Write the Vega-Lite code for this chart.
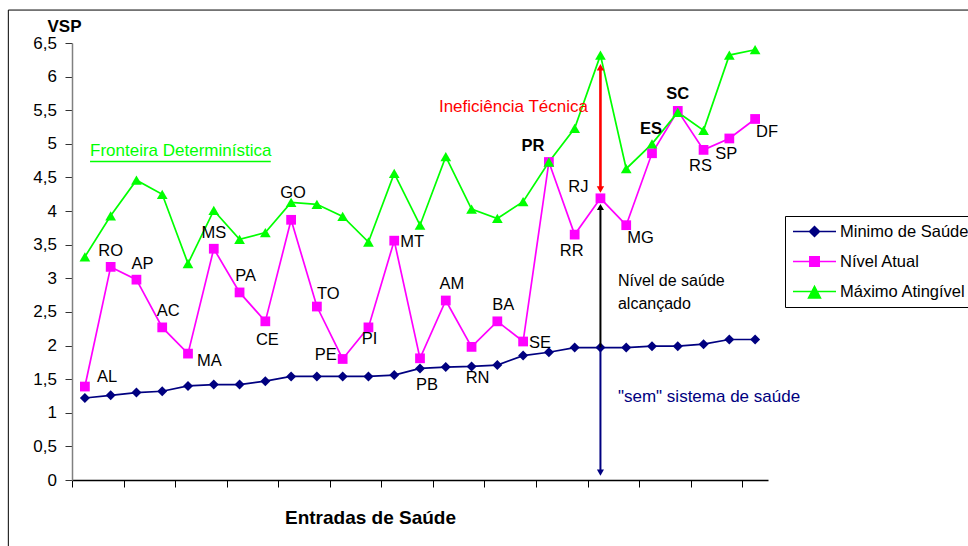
{
  "$schema": "https://vega.github.io/schema/vega-lite/v6.json",
  "width": 696,
  "height": 437,
  "autosize": {"type": "none"},
  "padding": {"left": 72, "top": 43, "right": 200, "bottom": 66},
  "background": "white",
  "config": {"view": {"stroke": null}, "font": "Liberation Sans", "text": {"font": "Liberation Sans", "color": "#000"}, "axisY": {"labelOverlap": false}},
  "datasets": {
    "states": [
      {"idx": 1, "state": "AL", "Minimo de Saúde": 1.22, "Nível Atual": 1.39, "Máximo Atingível": 3.32},
      {"idx": 2, "state": "RO", "Minimo de Saúde": 1.26, "Nível Atual": 3.17, "Máximo Atingível": 3.93},
      {"idx": 3, "state": "AP", "Minimo de Saúde": 1.30, "Nível Atual": 2.98, "Máximo Atingível": 4.46},
      {"idx": 4, "state": "AC", "Minimo de Saúde": 1.32, "Nível Atual": 2.27, "Máximo Atingível": 4.25},
      {"idx": 5, "state": "MA", "Minimo de Saúde": 1.40, "Nível Atual": 1.88, "Máximo Atingível": 3.22},
      {"idx": 6, "state": "MS", "Minimo de Saúde": 1.42, "Nível Atual": 3.44, "Máximo Atingível": 4.01},
      {"idx": 7, "state": "PA", "Minimo de Saúde": 1.42, "Nível Atual": 2.79, "Máximo Atingível": 3.58},
      {"idx": 8, "state": "CE", "Minimo de Saúde": 1.47, "Nível Atual": 2.36, "Máximo Atingível": 3.68},
      {"idx": 9, "state": "GO", "Minimo de Saúde": 1.54, "Nível Atual": 3.87, "Máximo Atingível": 4.13},
      {"idx": 10, "state": "TO", "Minimo de Saúde": 1.54, "Nível Atual": 2.58, "Máximo Atingível": 4.10},
      {"idx": 11, "state": "PE", "Minimo de Saúde": 1.54, "Nível Atual": 1.80, "Máximo Atingível": 3.92},
      {"idx": 12, "state": "PI", "Minimo de Saúde": 1.54, "Nível Atual": 2.27, "Máximo Atingível": 3.54},
      {"idx": 13, "state": "MT", "Minimo de Saúde": 1.56, "Nível Atual": 3.56, "Máximo Atingível": 4.56},
      {"idx": 14, "state": "PB", "Minimo de Saúde": 1.66, "Nível Atual": 1.81, "Máximo Atingível": 3.79},
      {"idx": 15, "state": "AM", "Minimo de Saúde": 1.68, "Nível Atual": 2.67, "Máximo Atingível": 4.81},
      {"idx": 16, "state": "RN", "Minimo de Saúde": 1.69, "Nível Atual": 1.98, "Máximo Atingível": 4.03},
      {"idx": 17, "state": "BA", "Minimo de Saúde": 1.71, "Nível Atual": 2.36, "Máximo Atingível": 3.89},
      {"idx": 18, "state": "SE", "Minimo de Saúde": 1.85, "Nível Atual": 2.06, "Máximo Atingível": 4.14},
      {"idx": 19, "state": "PR", "Minimo de Saúde": 1.90, "Nível Atual": 4.73, "Máximo Atingível": 4.73},
      {"idx": 20, "state": "RR", "Minimo de Saúde": 1.97, "Nível Atual": 3.65, "Máximo Atingível": 5.23},
      {"idx": 21, "state": "RJ", "Minimo de Saúde": 1.97, "Nível Atual": 4.19, "Máximo Atingível": 6.32},
      {"idx": 22, "state": "MG", "Minimo de Saúde": 1.97, "Nível Atual": 3.79, "Máximo Atingível": 4.63},
      {"idx": 23, "state": "ES", "Minimo de Saúde": 1.99, "Nível Atual": 4.86, "Máximo Atingível": 5.00},
      {"idx": 24, "state": "SC", "Minimo de Saúde": 1.99, "Nível Atual": 5.49, "Máximo Atingível": 5.47},
      {"idx": 25, "state": "RS", "Minimo de Saúde": 2.02, "Nível Atual": 4.91, "Máximo Atingível": 5.20},
      {"idx": 26, "state": "SP", "Minimo de Saúde": 2.09, "Nível Atual": 5.08, "Máximo Atingível": 6.32},
      {"idx": 27, "state": "DF", "Minimo de Saúde": 2.09, "Nível Atual": 5.37, "Máximo Atingível": 6.40}
    ]
  },
  "data": {"name": "states"},
  "layer": [
    {
      "transform": [{"fold": ["Minimo de Saúde", "Nível Atual", "Máximo Atingível"], "as": ["series", "value"]}],
      "mark": {"type": "line", "strokeWidth": 1.7},
      "encoding": {
        "x": {
          "field": "idx", "type": "quantitative",
          "scale": {"domain": [0.5, 27.5], "nice": false, "zero": false},
          "axis": {
            "values": [0.5, 1.5, 2.5, 3.5, 4.5, 5.5, 6.5, 7.5, 8.5, 9.5, 10.5, 11.5, 12.5, 13.5, 14.5, 15.5, 16.5, 17.5, 18.5, 19.5, 20.5, 21.5, 22.5, 23.5, 24.5, 25.5, 26.5, 27.5],
            "labels": false, "grid": false, "domainColor": "#000", "domainWidth": 1.3, "tickColor": "#000", "tickSize": 7,
            "title": "Entradas de Saúde", "titleX": 298, "titleY": 43, "titleBaseline": "alphabetic", "titleAlign": "center",
            "titleFontSize": 19, "titleFontWeight": "bold", "titleFont": "Liberation Sans", "titleColor": "#000"
          }
        },
        "y": {
          "field": "value", "type": "quantitative",
          "scale": {"domain": [0, 6.5], "nice": false, "zero": true},
          "axis": {
            "values": [0, 0.5, 1, 1.5, 2, 2.5, 3, 3.5, 4, 4.5, 5, 5.5, 6, 6.5],
            "tickCount": 14,
            "labelExpr": "replace(format(datum.value, '~f'), '.', ',')",
            "labelOverlap": false, "labelFlush": false,
            "grid": false, "domainColor": "#808080", "domainWidth": 1.5, "tickColor": "#333", "tickSize": 7,
            "labelFontSize": 17, "labelFont": "Liberation Sans", "labelColor": "#000", "labelPadding": 8.5,
            "title": "VSP", "titleAngle": 0, "titleX": -25, "titleY": -12, "titleAlign": "left", "titleBaseline": "alphabetic",
            "titleFontSize": 17, "titleFontWeight": "bold", "titleFont": "Liberation Sans", "titleColor": "#000"
          }
        },
        "color": {
          "field": "series", "type": "nominal",
          "scale": {"domain": ["Minimo de Saúde", "Nível Atual", "Máximo Atingível"], "range": ["#000080", "#FF00FF", "#00FF00"]},
          "legend": {
            "title": null, "orient": "none", "legendX": 713, "legendY": 173, "padding": 7,
            "strokeColor": "#000", "fillColor": "#fff", "symbolSize": 1849, "clipHeight": 17, "rowPadding": 13,
            "labelFontSize": 16.5, "labelFont": "Liberation Sans", "labelColor": "#000", "labelOffset": 3, "labelLimit": 400,
            "symbolOffset": 0, "symbolStrokeWidth": 1.5,
            "encode": {
              "symbols": {
                "update": {
                  "shape": {"signal": "datum.value === 'Minimo de Saúde' ? 'M-1,0H1M-0.233,0L0,-0.233L0.233,0L0,0.233Z' : datum.value === 'Nível Atual' ? 'M-1,0H1M-0.22,-0.22H0.22V0.22H-0.22Z' : 'M-1,0H1M0,-0.24L0.28,0.3L-0.28,0.3Z'"},
                  "fill": {"signal": "scale('color', datum.value)"},
                  "stroke": {"signal": "scale('color', datum.value)"},
                  "strokeWidth": {"value": 1.5},
                  "opacity": {"value": 1}
                }
              }
            }
          }
        }
      }
    },
    {
      "data": {"values": [{"frame": 1}]},
      "mark": {"type": "rect", "filled": false, "stroke": "#000", "strokeWidth": 1, "clip": false},
      "encoding": {
        "x": {"datum": -1.97, "type": "quantitative"},
        "x2": {"datum": 40},
        "y": {"datum": 6.99, "type": "quantitative"},
        "y2": {"datum": -3}
      }
    },
    {
      "mark": {"type": "point", "shape": "diamond", "filled": true, "opacity": 1, "size": 100, "color": "#000080"},
      "encoding": {
        "x": {"field": "idx", "type": "quantitative"},
        "y": {"field": "Minimo de Saúde", "type": "quantitative"}
      }
    },
    {
      "mark": {"type": "point", "shape": "square", "filled": true, "opacity": 1, "size": 95, "color": "#FF00FF"},
      "encoding": {
        "x": {"field": "idx", "type": "quantitative"},
        "y": {"field": "Nível Atual", "type": "quantitative"}
      }
    },
    {
      "mark": {"type": "point", "shape": "triangle-up", "filled": true, "opacity": 1, "size": 115, "color": "#00FF00"},
      "encoding": {
        "x": {"field": "idx", "type": "quantitative"},
        "y": {"field": "Máximo Atingível", "type": "quantitative"}
      }
    },
    {
      "transform": [{"filter": {"field": "state", "oneOf": ["RO", "MS"]}}],
      "mark": {"type": "text", "align": "center", "baseline": "middle", "dx": 0, "dy": -16, "fontSize": 16.5},
      "encoding": {"x": {"field": "idx", "type": "quantitative"}, "y": {"field": "Nível Atual", "type": "quantitative"}, "text": {"field": "state"}}
    },
    {
      "transform": [{"filter": {"field": "state", "oneOf": ["AP", "AC", "PA", "AM", "BA"]}}],
      "mark": {"type": "text", "align": "center", "baseline": "middle", "dx": 6, "dy": -16, "fontSize": 16.5},
      "encoding": {"x": {"field": "idx", "type": "quantitative"}, "y": {"field": "Nível Atual", "type": "quantitative"}, "text": {"field": "state"}}
    },
    {
      "transform": [{"filter": {"field": "state", "oneOf": ["RR", "RS", "SP"]}}],
      "mark": {"type": "text", "align": "center", "baseline": "middle", "dx": -3, "dy": 16, "fontSize": 16.5},
      "encoding": {"x": {"field": "idx", "type": "quantitative"}, "y": {"field": "Nível Atual", "type": "quantitative"}, "text": {"field": "state"}}
    },
    {
      "transform": [{"filter": {"field": "state", "oneOf": ["CE"]}}],
      "mark": {"type": "text", "align": "center", "baseline": "middle", "dx": 2, "dy": 19, "fontSize": 16.5},
      "encoding": {"x": {"field": "idx", "type": "quantitative"}, "y": {"field": "Nível Atual", "type": "quantitative"}, "text": {"field": "state"}}
    },
    {
      "transform": [{"filter": {"field": "state", "oneOf": ["PI"]}}],
      "mark": {"type": "text", "align": "center", "baseline": "middle", "dx": 1, "dy": 12, "fontSize": 16.5},
      "encoding": {"x": {"field": "idx", "type": "quantitative"}, "y": {"field": "Nível Atual", "type": "quantitative"}, "text": {"field": "state"}}
    },
    {
      "transform": [{"filter": {"field": "state", "oneOf": ["GO"]}}],
      "mark": {"type": "text", "align": "center", "baseline": "middle", "dx": 2, "dy": -27, "fontSize": 16.5},
      "encoding": {"x": {"field": "idx", "type": "quantitative"}, "y": {"field": "Nível Atual", "type": "quantitative"}, "text": {"field": "state"}}
    },
    {
      "transform": [{"filter": {"field": "state", "oneOf": ["PB"]}}],
      "mark": {"type": "text", "align": "center", "baseline": "middle", "dx": 7, "dy": 27, "fontSize": 16.5},
      "encoding": {"x": {"field": "idx", "type": "quantitative"}, "y": {"field": "Nível Atual", "type": "quantitative"}, "text": {"field": "state"}}
    },
    {
      "transform": [{"filter": {"field": "state", "oneOf": ["RN"]}}],
      "mark": {"type": "text", "align": "center", "baseline": "middle", "dx": 6, "dy": 31, "fontSize": 16.5},
      "encoding": {"x": {"field": "idx", "type": "quantitative"}, "y": {"field": "Nível Atual", "type": "quantitative"}, "text": {"field": "state"}}
    },
    {
      "transform": [{"filter": {"field": "state", "oneOf": ["AL"]}}],
      "mark": {"type": "text", "align": "left", "baseline": "middle", "dx": 12, "dy": -10, "fontSize": 16.5},
      "encoding": {"x": {"field": "idx", "type": "quantitative"}, "y": {"field": "Nível Atual", "type": "quantitative"}, "text": {"field": "state"}}
    },
    {
      "transform": [{"filter": {"field": "state", "oneOf": ["TO"]}}],
      "mark": {"type": "text", "align": "left", "baseline": "middle", "dx": 0, "dy": -13, "fontSize": 16.5},
      "encoding": {"x": {"field": "idx", "type": "quantitative"}, "y": {"field": "Nível Atual", "type": "quantitative"}, "text": {"field": "state"}}
    },
    {
      "transform": [{"filter": {"field": "state", "oneOf": ["MA"]}}],
      "mark": {"type": "text", "align": "left", "baseline": "middle", "dx": 9, "dy": 7, "fontSize": 16.5},
      "encoding": {"x": {"field": "idx", "type": "quantitative"}, "y": {"field": "Nível Atual", "type": "quantitative"}, "text": {"field": "state"}}
    },
    {
      "transform": [{"filter": {"field": "state", "oneOf": ["MG", "DF"]}}],
      "mark": {"type": "text", "align": "left", "baseline": "middle", "dx": 1, "dy": 13, "fontSize": 16.5},
      "encoding": {"x": {"field": "idx", "type": "quantitative"}, "y": {"field": "Nível Atual", "type": "quantitative"}, "text": {"field": "state"}}
    },
    {
      "transform": [{"filter": {"field": "state", "oneOf": ["MT", "SE"]}}],
      "mark": {"type": "text", "align": "left", "baseline": "middle", "dx": 6, "dy": 1, "fontSize": 16.5},
      "encoding": {"x": {"field": "idx", "type": "quantitative"}, "y": {"field": "Nível Atual", "type": "quantitative"}, "text": {"field": "state"}}
    },
    {
      "transform": [{"filter": {"field": "state", "oneOf": ["PE"]}}],
      "mark": {"type": "text", "align": "right", "baseline": "middle", "dx": -6, "dy": -4, "fontSize": 16.5},
      "encoding": {"x": {"field": "idx", "type": "quantitative"}, "y": {"field": "Nível Atual", "type": "quantitative"}, "text": {"field": "state"}}
    },
    {
      "transform": [{"filter": {"field": "state", "oneOf": ["RJ"]}}],
      "mark": {"type": "text", "align": "right", "baseline": "middle", "dx": -12, "dy": -11, "fontSize": 16.5},
      "encoding": {"x": {"field": "idx", "type": "quantitative"}, "y": {"field": "Nível Atual", "type": "quantitative"}, "text": {"field": "state"}}
    },
    {
      "transform": [{"filter": {"field": "state", "oneOf": ["PR"]}}],
      "mark": {"type": "text", "align": "center", "baseline": "middle", "dx": -16, "dy": -16, "fontSize": 16.5, "fontWeight": "bold"},
      "encoding": {"x": {"field": "idx", "type": "quantitative"}, "y": {"field": "Nível Atual", "type": "quantitative"}, "text": {"field": "state"}}
    },
    {
      "transform": [{"filter": {"field": "state", "oneOf": ["ES"]}}],
      "mark": {"type": "text", "align": "center", "baseline": "middle", "dx": -1, "dy": -24, "fontSize": 16.5, "fontWeight": "bold"},
      "encoding": {"x": {"field": "idx", "type": "quantitative"}, "y": {"field": "Nível Atual", "type": "quantitative"}, "text": {"field": "state"}}
    },
    {
      "transform": [{"filter": {"field": "state", "oneOf": ["SC"]}}],
      "mark": {"type": "text", "align": "center", "baseline": "middle", "dx": 0, "dy": -17, "fontSize": 16.5, "fontWeight": "bold"},
      "encoding": {"x": {"field": "idx", "type": "quantitative"}, "y": {"field": "Nível Atual", "type": "quantitative"}, "text": {"field": "state"}}
    },
    {
      "data": {"values": [{"a": 1}]},
      "mark": {"type": "rule", "color": "#FF0000", "strokeWidth": 2.6},
      "encoding": {"x": {"datum": 21, "type": "quantitative"}, "y": {"datum": 6.12, "type": "quantitative"}, "y2": {"datum": 4.34}}
    },
    {
      "data": {"values": [{"a": 1}]},
      "mark": {"type": "point", "shape": "triangle-up", "filled": true, "color": "#FF0000", "opacity": 1, "size": 55},
      "encoding": {"x": {"datum": 21, "type": "quantitative"}, "y": {"datum": 6.14, "type": "quantitative"}}
    },
    {
      "data": {"values": [{"a": 1}]},
      "mark": {"type": "point", "shape": "triangle-down", "filled": true, "color": "#FF0000", "opacity": 1, "size": 55},
      "encoding": {"x": {"datum": 21, "type": "quantitative"}, "y": {"datum": 4.32, "type": "quantitative"}}
    },
    {
      "data": {"values": [{"a": 1}]},
      "mark": {"type": "rule", "color": "#000", "strokeWidth": 2},
      "encoding": {"x": {"datum": 21, "type": "quantitative"}, "y": {"datum": 1.97, "type": "quantitative"}, "y2": {"datum": 4.04}}
    },
    {
      "data": {"values": [{"a": 1}]},
      "mark": {"type": "point", "shape": "triangle-up", "filled": true, "color": "#000", "opacity": 1, "size": 50},
      "encoding": {"x": {"datum": 21, "type": "quantitative"}, "y": {"datum": 4.06, "type": "quantitative"}}
    },
    {
      "data": {"values": [{"a": 1}]},
      "mark": {"type": "rule", "color": "#000080", "strokeWidth": 2},
      "encoding": {"x": {"datum": 21, "type": "quantitative"}, "y": {"datum": 1.97, "type": "quantitative"}, "y2": {"datum": 0.13}}
    },
    {
      "data": {"values": [{"a": 1}]},
      "mark": {"type": "point", "shape": "triangle-down", "filled": true, "color": "#000080", "opacity": 1, "size": 50},
      "encoding": {"x": {"datum": 21, "type": "quantitative"}, "y": {"datum": 0.11, "type": "quantitative"}}
    },
    {
      "data": {"values": [{"label": "Ineficiência Técnica"}]},
      "mark": {"type": "text", "align": "right", "baseline": "middle", "dx": -12.5, "fontSize": 17, "color": "#FF0000"},
      "encoding": {"x": {"datum": 21, "type": "quantitative"}, "y": {"datum": 5.546, "type": "quantitative"}, "text": {"field": "label"}}
    },
    {
      "data": {"values": [{"label": "Fronteira Determinística"}]},
      "mark": {"type": "text", "align": "left", "baseline": "middle", "fontSize": 17, "color": "#00FF00"},
      "encoding": {"x": {"datum": 1.2, "type": "quantitative"}, "y": {"datum": 4.9, "type": "quantitative"}, "text": {"field": "label"}}
    },
    {
      "data": {"values": [{"a": 1}]},
      "mark": {"type": "rule", "color": "#00FF00", "strokeWidth": 1.6},
      "encoding": {"x": {"datum": 1.2, "type": "quantitative"}, "x2": {"datum": 8.21}, "y": {"datum": 4.737, "type": "quantitative"}}
    },
    {
      "data": {"values": [{"label": ["Nível de saúde", "alcançado"]}]},
      "mark": {"type": "text", "align": "left", "baseline": "middle", "dx": 17.5, "fontSize": 16, "lineHeight": 23.3, "color": "#000"},
      "encoding": {"x": {"datum": 21, "type": "quantitative"}, "y": {"datum": 2.966, "type": "quantitative"}, "text": {"field": "label"}}
    },
    {
      "data": {"values": [{"label": "\"sem\" sistema de saúde"}]},
      "mark": {"type": "text", "align": "left", "baseline": "middle", "dx": 17.5, "fontSize": 17, "color": "#000080"},
      "encoding": {"x": {"datum": 21, "type": "quantitative"}, "y": {"datum": 1.23, "type": "quantitative"}, "text": {"field": "label"}}
    }
  ]
}
